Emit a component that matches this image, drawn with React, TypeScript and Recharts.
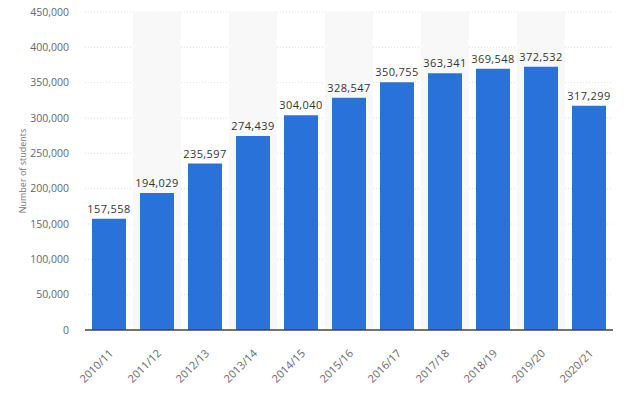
import { BarChart, Bar, XAxis, YAxis, CartesianGrid, LabelList, ReferenceArea } from "recharts";

const YEARS = ["2010/11", "2011/12", "2012/13", "2013/14", "2014/15", "2015/16", "2016/17", "2017/18", "2018/19", "2019/20", "2020/21"];
const STUDENTS = [157558, 194029, 235597, 274439, 304040, 328547, 350755, 363341, 369548, 372532, 317299];
const Y_TICKS = [0, 50000, 100000, 150000, 200000, 250000, 300000, 350000, 400000, 450000];

const data = YEARS.map((year, i) => ({ year, students: STUDENTS[i] }));
const shaded = YEARS.filter((_, i) => i % 2 === 1);

const FONT = "'Open Sans', sans-serif";
const fmt = (v: number) => v.toLocaleString("en-US");

function XTick({ x, y, payload }: any) {
  return (
    <text
      x={x + 5}
      y={y + 16}
      textAnchor="end"
      fontSize={11}
      fill="#666"
      fontFamily={FONT}
      transform={`rotate(-45 ${x + 5} ${y + 16})`}
    >
      {payload.value}
    </text>
  );
}

export default function App() {
  return (
    <div style={{ position: "absolute", left: 0, top: 0, background: "#fff" }}>
      <BarChart width={640} height={394} data={data} margin={{ top: 12, right: 27, left: 0, bottom: 0 }}>
        {shaded.map((y) => (
          <ReferenceArea key={y} x1={y} x2={y} fill="#f8f8f8" fillOpacity={1} stroke="none" ifOverflow="hidden" />
        ))}
        <CartesianGrid vertical={false} stroke="#dcdcdc" strokeDasharray="1 2" />
        <XAxis
          dataKey="year"
          height={64}
          tickLine={false}
          axisLine={{ stroke: "#444", strokeWidth: 1.5 }}
          tick={<XTick />}
          interval={0}
        />
        <YAxis
          width={85}
          domain={[0, 450000]}
          ticks={Y_TICKS}
          tickFormatter={fmt}
          axisLine={false}
          tickLine={false}
          tickMargin={10}
          tick={{ fontSize: 10.5, fill: "#666", fontFamily: FONT }}
          label={{
            value: "Number of students",
            angle: -90,
            position: "insideLeft",
            dx: 18,
            style: { textAnchor: "middle", fontSize: 9, fill: "#777", fontFamily: FONT },
          }}
        />
        <Bar dataKey="students" fill="#2872da" barSize={34} isAnimationActive={false}>
          <LabelList
            dataKey="students"
            position="top"
            offset={6}
            formatter={(v: any) => fmt(Number(v))}
            style={{ fontSize: 11, fill: "#333", fontFamily: FONT, letterSpacing: 0.4 }}
          />
        </Bar>
      </BarChart>
    </div>
  );
}
